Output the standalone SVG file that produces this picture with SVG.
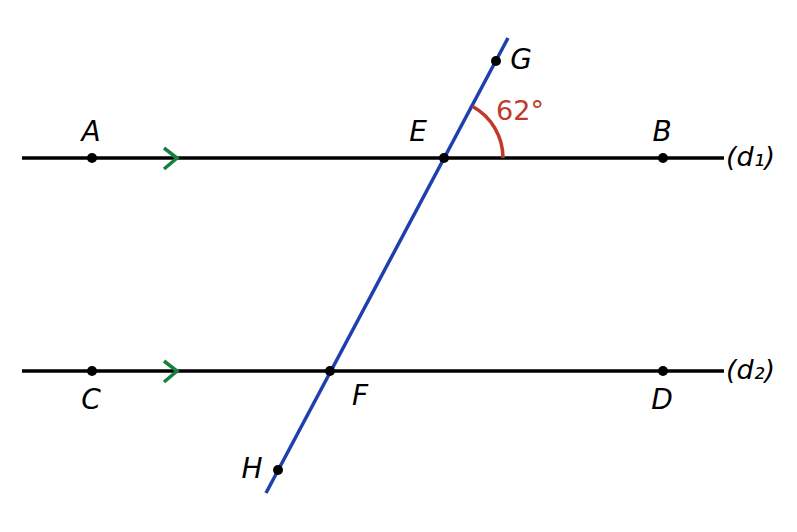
<svg xmlns="http://www.w3.org/2000/svg" width="797" height="532" viewBox="0 0 797 532">
<style>
.ln{stroke:#000;stroke-width:3.5;fill:none}
.tr{stroke:#1f3fae;stroke-width:3.5;fill:none}
.chev{stroke:#17803d;stroke-width:3.5;fill:none}
.pt{fill:#000}
.lbl{font-family:"DejaVu Sans",sans-serif;font-style:italic;font-size:28px;fill:#000;text-anchor:middle}
.dl{font-family:"DejaVu Sans",sans-serif;font-style:italic;font-size:27px;fill:#000}
.ang{font-family:"DejaVu Sans",sans-serif;font-size:27px;fill:#c0392b;text-anchor:middle}
</style>
<rect width="797" height="532" fill="#fff"/>
<g id="connectors">
<line class="ln" x1="22" y1="158" x2="724" y2="158"/>
<line class="ln" x1="22" y1="371" x2="724" y2="371"/>
<line class="tr" x1="508" y1="38" x2="266" y2="493"/>
<path class="chev" d="M164 148 L177 158 L164 169"/>
<path class="chev" d="M164 361 L177 371 L164 382"/>
<path d="M503 158 A59 59 0 0 0 472.7 106.5" stroke="#c0392b" stroke-width="3.5" fill="none"/>
</g>
<g id="A"><circle class="pt" cx="92" cy="158" r="5"/><text class="lbl" x="91" y="141">A</text></g>
<g id="E"><circle class="pt" cx="444" cy="158" r="5"/><text class="lbl" x="418" y="141">E</text></g>
<g id="B"><circle class="pt" cx="663" cy="158" r="5"/><text class="lbl" x="662" y="141">B</text></g>
<g id="G"><circle class="pt" cx="496" cy="61" r="5"/><text class="lbl" x="521" y="69">G</text></g>
<g id="C"><circle class="pt" cx="92" cy="371" r="5"/><text class="lbl" x="91" y="409">C</text></g>
<g id="F"><circle class="pt" cx="330" cy="371" r="5"/><text class="lbl" x="360" y="405">F</text></g>
<g id="D"><circle class="pt" cx="663" cy="371" r="5"/><text class="lbl" x="662" y="409">D</text></g>
<g id="H"><circle class="pt" cx="278" cy="470" r="5"/><text class="lbl" x="252" y="478">H</text></g>
<g id="angle"><text class="ang" x="520" y="120">62°</text></g>
<g id="d1"><text class="dl" x="726" y="166">(d₁)</text></g>
<g id="d2"><text class="dl" x="726" y="379">(d₂)</text></g>
</svg>
